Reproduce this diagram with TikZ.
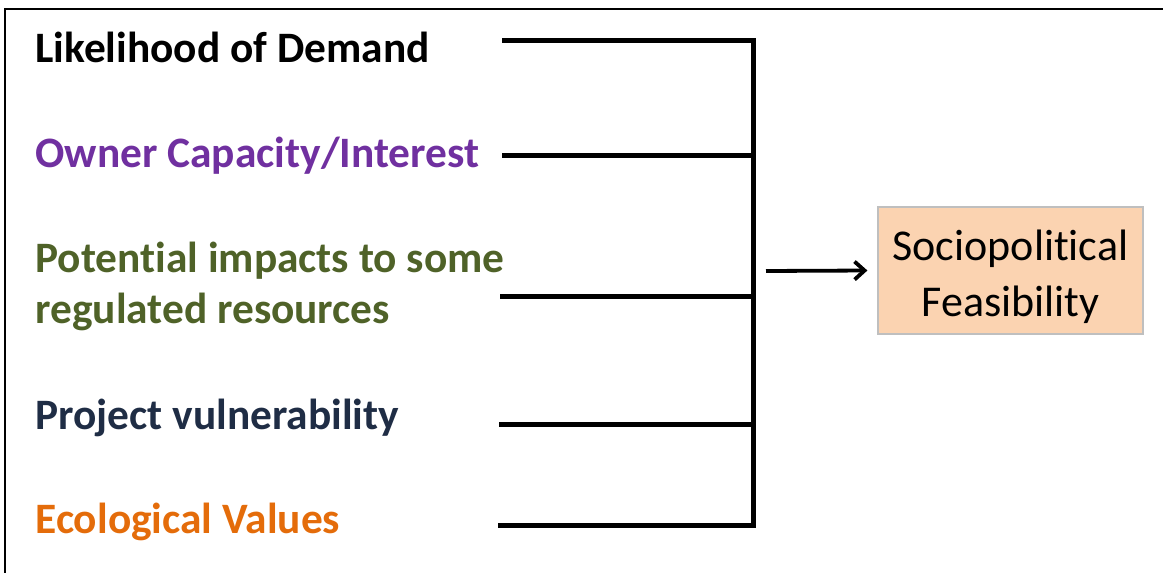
\documentclass[tikz,border=0pt]{standalone}
\usepackage{fontspec}
\setmainfont{Carlito}[Ligatures=NoCommon]
\usetikzlibrary{positioning,arrows.meta}
\definecolor{ownerpurple}{HTML}{7030A0}
\definecolor{impactgreen}{HTML}{4F6228}
\definecolor{projectnavy}{HTML}{1F2D45}
\definecolor{ecoorange}{HTML}{E46C0A}
\definecolor{boxpeach}{HTML}{FBD3B1}
\definecolor{boxgray}{HTML}{BFBFBF}
\begin{document}
\begin{tikzpicture}[x=0.5pt, y=-0.5pt,
  factor/.style = {anchor=base west, inner sep=0pt, font=\fontsize{21.7}{25.5}\selectfont\bfseries, align=left},
  result/.style = {draw=boxgray, line width=0.6pt, fill=boxpeach, minimum width=132.5pt, minimum height=63.5pt, inner sep=0pt, text height=50pt, align=center, font=\fontsize{22}{28}\selectfont},
  bracket/.style = {line width=2.5pt}]
\useasboundingbox (0,0) rectangle (1163,573);
% frame
\coordinate (f1) at (5,573);
\coordinate (f2) at (5,9);
\coordinate (f3) at (1163,9);
\draw[line width=1pt] (f1) -- (f2) -- (f3);
% factors
\node[factor] (demand) at (35,62) {Likelihood of Demand};
\node[factor, text=ownerpurple] (owner) at (35,167) {Owner Capacity/Interest};
\node[factor, text=impactgreen, anchor=north west] (impact) at (35,242) {Potential impacts to some\\regulated resources};
\node[factor, text=projectnavy] (project) at (35,429) {Project vulnerability};
\node[factor, text=ecoorange] (eco) at (35,533) {Ecological Values};
% bracket
\coordinate (l1) at (502,40);
\coordinate (l2) at (502,155);
\coordinate (l3) at (500,296);
\coordinate (l4) at (499,424);
\coordinate (l5) at (498,525);
\coordinate (j1) at (753,40);
\coordinate (j2) at (753,155);
\coordinate (j3) at (753,296);
\coordinate (j4) at (753,424);
\coordinate (j5) at (753,525);
\draw[bracket] (l1) -- (j1);
\draw[bracket] (l2) -- (j2);
\draw[bracket] (l3) -- (j3);
\draw[bracket] (l4) -- (j4);
\draw[bracket] (l5) -- (j5);
\draw[bracket, line cap=rect] (j1) -- (j5);
% result
\node[result] (feas) at (1010.5,270.5) {Sociopolitical\\Feasibility};
\coordinate (a) at (766,271);
\draw[line width=1.9pt, -{Straight Barb[length=5pt,width=9pt]}] (a) -- ([xshift=-5pt]feas.west);
\end{tikzpicture}
\end{document}
